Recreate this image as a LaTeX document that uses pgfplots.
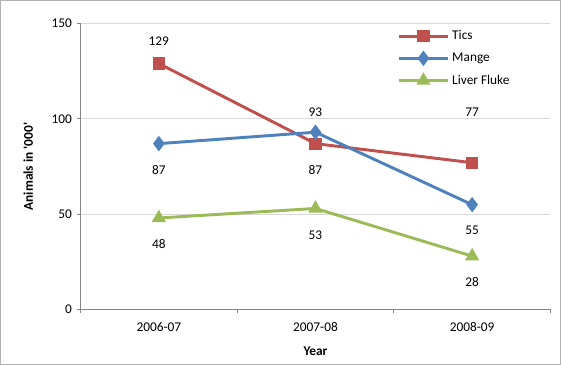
\documentclass[border=0pt]{standalone}
\usepackage{pgfplots}
\pgfplotsset{compat=1.18}
\usepackage{pgfplotstable}
\usepackage{fontspec}
\setmainfont{Carlito}

\definecolor{ticsred}{HTML}{C0504D}
\definecolor{mangeblue}{HTML}{4F81BD}
\definecolor{flukegreen}{HTML}{9BBB59}
\definecolor{axisgrey}{HTML}{868686}
\definecolor{gridgrey}{HTML}{D9D9D9}

% x, value, label offset (pt)
\pgfplotstableread{
x y dy
0 129 17
1 87 -20
2 77 38
}\tics
\pgfplotstableread{
x y dy
0 87 -20
1 93 15
2 55 -19
}\mange
\pgfplotstableread{
x y dy
0 48 -19.5
1 53 -20
2 28 -19.5
}\fluke

\begin{document}
\begin{tikzpicture}
\begin{axis}[
    scale only axis,
    width=352.5pt, height=214.5pt,
    xmin=-0.5, xmax=2.5,
    ymin=0, ymax=150,
    ytick={0,50,100,150},
    xtick={0,1,2},
    xticklabels={2006-07,2007-08,2008-09},
    minor xtick={-0.5,0.5,1.5,2.5},
    major x tick style={draw=none},
    tick align=outside,
    major tick length=3pt,
    minor tick length=3pt,
    tick style={axisgrey, line width=0.9pt},
    axis x line*=bottom,
    axis y line*=left,
    axis line style={axisgrey, line width=1pt, -},
    ymajorgrids,
    grid style={gridgrey, line width=0.8pt},
    /pgf/number format/assume math mode=true,
    ticklabel style={font=\fontsize{10}{12}\selectfont},
    xticklabel style={yshift=-3pt},
    xlabel={\bfseries Year},
    ylabel={\bfseries Animals in \textquotesingle000\textquotesingle},
    xlabel style={at={(axis description cs:0.5,-0.147)}, anchor=center},
    ylabel style={at={(axis description cs:-0.111,0.5)}, anchor=center},
    legend style={draw=none, fill=none, at={(0.665,0.995)}, anchor=north west,
        font=\fontsize{10}{12}\selectfont, row sep=4.5pt,
        /tikz/every even column/.append style={column sep=2pt}},
    legend cell align=left,
    legend image code/.code={\draw[mark repeat=2,mark phase=2] plot coordinates {(0pt,0pt) (18.5pt,0pt) (37pt,0pt)};},
    every axis plot/.append style={line width=2.2pt},
    nodes near coords,
    point meta=explicit,
    visualization depends on={\thisrow{dy} \as \dy},
    every node near coord/.append style={anchor=center, yshift=\dy pt,
        font=\fontsize{10}{12}\selectfont, black},
]
\addplot[ticsred, mark=square*, mark size=3.5pt, mark options={solid}]
    table[x=x, y=y, meta=y] {\tics};
\addlegendentry{Tics}
\addplot[mangeblue, mark=diamond*, mark size=4pt]
    table[x=x, y=y, meta=y] {\mange};
\addlegendentry{Mange}
\addplot[flukegreen, mark=triangle*, mark size=4pt]
    table[x=x, y=y, meta=y] {\fluke};
\addlegendentry{Liver Fluke}
\end{axis}
\draw[gray!60, line width=0.8pt] (-60pt,-41pt) rectangle (360pt,231.75pt);
\end{tikzpicture}
\end{document}
